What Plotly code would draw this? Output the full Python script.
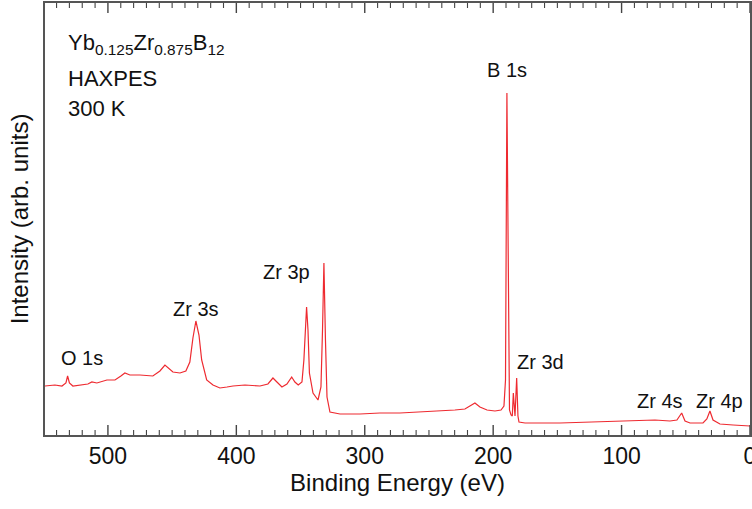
import plotly.graph_objects as go

# Binding energy (eV) and intensity (arb. units)
energy = [549.1, 541.3, 535.8, 532.7, 531.4, 530.0, 527.3, 521.8, 515.6, 512.5,
          508.6, 500.8, 494.5, 489.9, 486.8, 482.9, 475.1, 465.0, 459.5, 455.6,
          452.5, 449.4, 443.9, 439.3, 436.2, 433.8, 431.5, 429.1, 427.0, 423.1,
          418.2, 412.8, 407.3, 402.6, 393.3, 381.6, 375.4, 371.5, 368.4, 364.5,
          360.6, 356.9, 354.4, 351.8, 348.9, 347.4, 345.3, 344.2, 343.1, 340.3,
          336.4, 334.1, 332.9, 331.8, 330.6, 329.4, 327.1, 319.3, 303.7, 288.2,
          272.6, 257.0, 241.4, 229.8, 222.0, 218.1, 214.2, 210.3, 204.8, 198.6,
          193.9, 191.6, 190.4, 189.3, 188.1, 187.3, 186.1, 185.1, 184.3, 183.6,
          183.0, 181.7, 180.7, 179.9, 175.2, 148.0, 116.8, 85.7, 74.0, 62.3,
          56.9, 53.2, 50.6, 46.7, 36.6, 33.6, 31.2, 28.8, 23.4, 13.2, 3.1, 0.0]
intensity = [49, 50, 49, 52, 59, 52, 49, 50, 51, 53,
             52, 55, 55, 59, 62, 60, 60, 59, 64, 70,
             66, 63, 62, 64, 73, 97, 114, 100, 75, 55,
             50, 47, 48, 49, 50, 49, 51, 57, 53, 48,
             51, 58, 53, 50, 53, 75, 128, 105, 62, 42,
             35, 48, 105, 172, 95, 38, 23, 21, 21, 22,
             22, 23, 24, 25, 26, 29, 32, 28, 25, 24,
             25, 29, 55, 342, 105, 25, 20, 19, 42, 20,
             19, 57, 19, 13, 12, 12, 13, 14, 15, 14,
             15, 22, 14, 12, 12, 16, 24, 15, 11, 10, 9, 9]

peak_labels = ["O 1s", "Zr 3s", "Zr 3p", "B 1s", "Zr 3d", "Zr 4s", "Zr 4p"]
peak_label_x = [520.2, 431.5, 360.6, 189.3, 162.8, 70.1, 24.1]
peak_label_y = [77, 126, 163, 365, 73, 34, 34]

info_lines = ["Yb<sub>0.125</sub>Zr<sub>0.875</sub>B<sub>12</sub>", "HAXPES", "300 K"]

# axis tick positions (eV): major every 100, minor every 10
major_ticks = [0, 100, 200, 300, 400, 500]
minor_ticks = [v for v in range(10, 550, 10) if v % 100 != 0]

FONT = "Liberation Sans, Arial, sans-serif"
AXC = "#555"
TKC = "#444"
PLOT_H = 432  # plot-area height in px (used to convert tick length to paper units)

fig = go.Figure()
fig.add_trace(go.Scatter(x=energy, y=intensity, mode="lines",
                         line=dict(color="#ee2a30", width=1.2),
                         showlegend=False, hoverinfo="skip"))

for t, x, y in zip(peak_labels, peak_label_x, peak_label_y):
    fig.add_annotation(x=x, y=y, text=t, showarrow=False, xanchor="center",
                       yanchor="middle", font=dict(family=FONT, size=20, color="#111"))

info_y = [0.905, 0.825, 0.755]
for t, yy in zip(info_lines, info_y):
    fig.add_annotation(x=0.03, y=yy, xref="paper", yref="paper", text=t,
                       showarrow=False, xanchor="left", yanchor="middle",
                       font=dict(family=FONT, size=22, color="#111"))

# inside tick marks on bottom and top edges, placed via the x axis scale
for vals, length, width in [(major_ticks, 10, 1.4), (minor_ticks, 5, 1.1)]:
    frac = length / PLOT_H
    for v in vals:
        fig.add_shape(type="line", xref="x", yref="paper", x0=v, x1=v, y0=0, y1=frac,
                      line=dict(color=TKC, width=width), layer="above")
        fig.add_shape(type="line", xref="x", yref="paper", x0=v, x1=v, y0=1, y1=1 - frac,
                      line=dict(color=TKC, width=width), layer="above")

fig.update_layout(
    width=752, height=509,
    margin=dict(l=45, r=2, t=3, b=74, autoexpand=False),
    paper_bgcolor="white", plot_bgcolor="white",
    font=dict(family=FONT, color="#111"),
    xaxis=dict(range=[549, 0], automargin=False, showgrid=False, zeroline=False,
               showline=True, linecolor=AXC, linewidth=1.5, mirror=True,
               ticks="", tickvals=major_ticks, ticktext=[str(v) for v in major_ticks],
               ticklabeloverflow="allow",
               tickfont=dict(size=23, family=FONT, color="#111"),
               title=dict(text="Binding Energy (eV)", font=dict(size=24, family=FONT, color="#111"),
                          standoff=4)),
    yaxis=dict(range=[0, 432], showticklabels=False, showgrid=False, zeroline=False,
               ticks="", showline=True, linecolor=AXC, linewidth=1.5, mirror=True, automargin=False,
               title=dict(text="Intensity (arb. units)", font=dict(size=24, family=FONT, color="#111"),
                          standoff=8)),
)

fig.write_html("out.html")
